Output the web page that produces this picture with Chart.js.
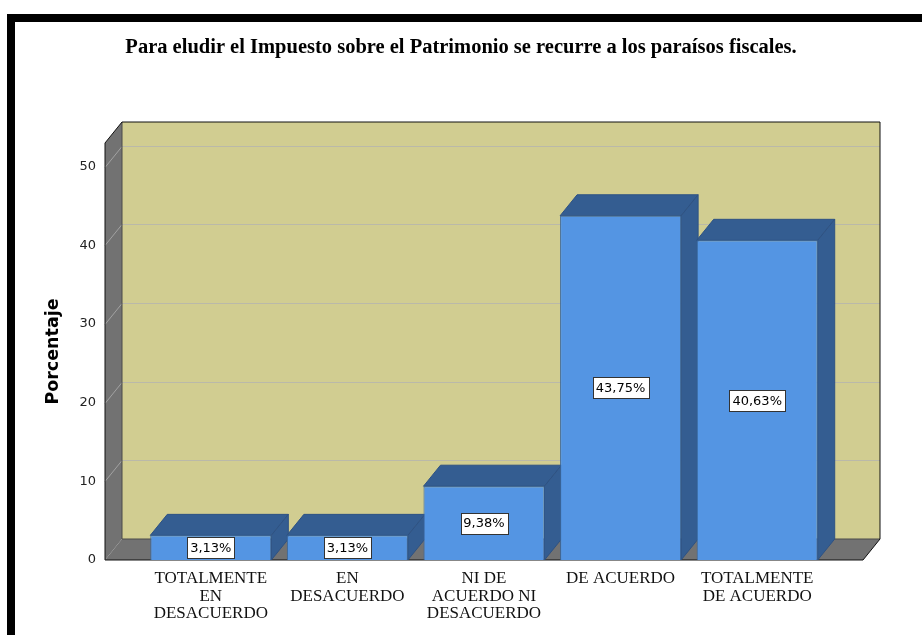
<!DOCTYPE html>
<html>
<head>
<meta charset="utf-8">
<script src="https://cdn.jsdelivr.net/npm/chart.js@4.4.1/dist/chart.umd.min.js"></script>
<style>
  html, body { margin: 0; padding: 0; background: #fff; }
  canvas { display: block; }
</style>
</head>
<body>
<canvas id="grafico" width="922" height="635"></canvas>
<script>
  // datos
  const chartTitle = 'Para eludir el Impuesto sobre el Patrimonio se recurre a los paraísos fiscales.';
  const categories = [
    ['TOTALMENTE', 'EN', 'DESACUERDO'],
    ['EN', 'DESACUERDO'],
    ['NI DE', 'ACUERDO NI', 'DESACUERDO'],
    'DE ACUERDO',
    ['TOTALMENTE', 'DE ACUERDO']
  ];
  const percentages = [3.13, 3.13, 9.38, 43.75, 40.63];
  const yTicks = [0, 10, 20, 30, 40, 50];
  const yMax = 53;

  // efecto 3D (profundidad de la caja)
  const DX = 17, DY = -21, SIDE = 37.5;

  function poly(ctx, pts, fill, stroke) {
    ctx.beginPath();
    ctx.moveTo(pts[0][0], pts[0][1]);
    for (let i = 1; i < pts.length; i++) ctx.lineTo(pts[i][0], pts[i][1]);
    ctx.closePath();
    if (fill) { ctx.fillStyle = fill; ctx.fill(); }
    if (stroke) { ctx.strokeStyle = stroke; ctx.lineWidth = 1; ctx.stroke(); }
  }

  const box3d = {
    id: 'box3d',
    beforeDraw(chart) {
      const ctx = chart.ctx;
      ctx.save();
      ctx.fillStyle = '#fff';
      ctx.fillRect(0, 0, chart.width, chart.height);
      ctx.restore();
    },
    beforeDatasetsDraw(chart) {
      const { ctx, chartArea: a, scales: { y } } = chart;
      const L = a.left - SIDE, R = a.right + SIDE;
      const T = y.getPixelForValue(yMax), B = y.getPixelForValue(0);
      ctx.save();
      // pared del fondo
      ctx.fillStyle = '#D1CD91';
      ctx.fillRect(L + DX, T + DY, R - L, B - T);
      // pared izquierda y suelo
      poly(ctx, [[L, T], [L + DX, T + DY], [L + DX, B + DY], [L, B]], '#727272');
      poly(ctx, [[L, B], [R, B], [R + DX, B + DY], [L + DX, B + DY]], '#727272');
      // lineas de cuadricula
      ctx.lineWidth = 1;
      yTicks.forEach(v => {
        if (v === 0) return;
        const py = Math.round(y.getPixelForValue(v)) + 0.5;
        ctx.strokeStyle = '#BAB9A9';
        ctx.beginPath();
        ctx.moveTo(L + DX, py + DY);
        ctx.lineTo(R + DX, py + DY);
        ctx.stroke();
        ctx.strokeStyle = '#A2A2A2';
        ctx.beginPath();
        ctx.moveTo(L, py);
        ctx.lineTo(L + DX, py + DY);
        ctx.stroke();
      });
      // aristas interiores
      ctx.strokeStyle = '#4a4a4a';
      ctx.beginPath();
      ctx.moveTo(L + DX, T + DY); ctx.lineTo(L + DX, B + DY); ctx.lineTo(R + DX, B + DY);
      ctx.stroke();
      // contorno
      ctx.strokeStyle = '#111';
      ctx.beginPath();
      ctx.moveTo(L, B); ctx.lineTo(L, T); ctx.lineTo(L + DX, T + DY);
      ctx.lineTo(R + DX, T + DY); ctx.lineTo(R + DX, B + DY);
      ctx.lineTo(R, B); ctx.closePath();
      ctx.stroke();
      // caras superior y lateral de las barras
      chart.getDatasetMeta(0).data.forEach(bar => {
        const { x, y: top, base, width } = bar.getProps(['x', 'y', 'base', 'width'], true);
        const l = x - width / 2, r = x + width / 2;
        poly(ctx, [[l, top], [r, top], [r + DX, top + DY], [l + DX, top + DY]], '#345D91', '#2E5283');
        poly(ctx, [[r, top], [r + DX, top + DY], [r + DX, base + DY], [r, base]], '#345D91', '#2E5283');
      });
      ctx.restore();
    },
    afterDatasetsDraw(chart) {
      const ctx = chart.ctx;
      ctx.save();
      ctx.font = '13px "DejaVu Sans"';
      ctx.textAlign = 'center';
      ctx.textBaseline = 'middle';
      chart.getDatasetMeta(0).data.forEach((bar, i) => {
        const { x, y: top, base } = bar.getProps(['x', 'y', 'base'], true);
        const txt = percentages[i].toFixed(2).replace('.', ',') + '%';
        const w = Math.round(ctx.measureText(txt).width + 6), h = 21;
        const cy = (top + base) / 2;
        const bx = Math.round(x - w / 2) + 0.5, by = Math.round(cy - h / 2) + 0.5;
        ctx.fillStyle = '#fff';
        ctx.fillRect(bx, by, w, h);
        ctx.strokeStyle = '#333';
        ctx.lineWidth = 1;
        ctx.strokeRect(bx, by, w, h);
        ctx.fillStyle = '#000';
        ctx.fillText(txt, x, cy + 1);
      });
      ctx.restore();
    },
    afterDraw(chart) {
      const ctx = chart.ctx;
      ctx.save();
      ctx.font = 'bold 20.5px "Liberation Serif"';
      ctx.fillStyle = '#000';
      ctx.textAlign = 'center';
      ctx.textBaseline = 'middle';
      ctx.fillText(chartTitle, 461, 48);
      // marco negro
      ctx.fillRect(7, 14, chart.width - 7, 8);
      ctx.fillRect(7, 14, 8, chart.height - 14);
      ctx.restore();
    }
  };

  new Chart(document.getElementById('grafico'), {
    type: 'bar',
    data: {
      labels: categories,
      datasets: [{
        label: 'Porcentaje',
        data: percentages,
        backgroundColor: '#5495E3',
        borderColor: '#3A6598',
        borderWidth: 1,
        barPercentage: 0.886,
        categoryPercentage: 1
      }]
    },
    options: {
      responsive: false,
      devicePixelRatio: 1,
      animation: false,
      layout: { padding: { left: 0, right: 96.5, top: 143, bottom: 0 } },
      plugins: {
        legend: { display: false },
        tooltip: { enabled: false }
      },
      scales: {
        x: {
          grid: { display: false, drawTicks: false },
          border: { display: false },
          ticks: {
            color: '#111',
            font: { family: 'Liberation Serif', size: 17, lineHeight: 1.03 },
            padding: 10,
            maxRotation: 0,
            autoSkip: false
          },
          afterFit(scale) { scale.height = 75; }
        },
        y: {
          min: 0,
          max: yMax,
          grid: { display: false, drawTicks: false },
          border: { display: false },
          ticks: {
            color: '#222',
            font: { family: 'DejaVu Sans', size: 13 },
            padding: 46.5
          },
          afterBuildTicks(scale) { scale.ticks = yTicks.map(v => ({ value: v })); },
          afterFit(scale) { scale.width = 142.5; },
          title: {
            display: true,
            text: 'Porcentaje',
            color: '#000',
            font: { family: 'DejaVu Sans', size: 17.5, weight: 'bold' },
            padding: { top: 43, bottom: 0 }
          }
        }
      }
    },
    plugins: [box3d]
  });
</script>
</body>
</html>
